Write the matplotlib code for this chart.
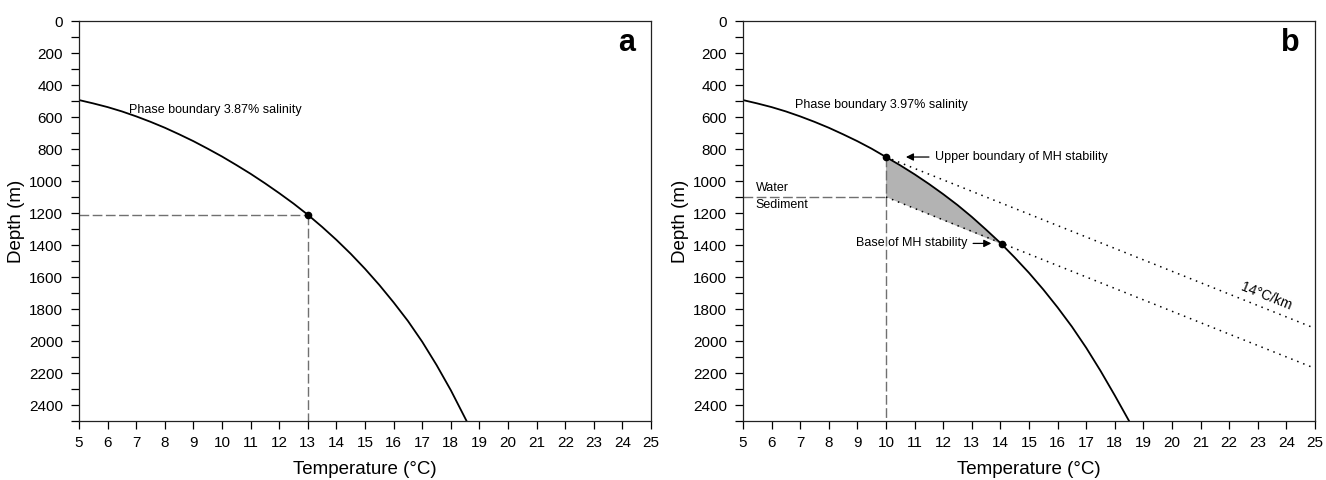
import numpy as np
import matplotlib
matplotlib.use('Agg')
import matplotlib.pyplot as plt
from matplotlib.ticker import MultipleLocator

plt.rcParams['font.family'] = ['Liberation Sans', 'DejaVu Sans']

#%% data

# phase boundary, 3.87% salinity (panel a)
temp_a = [5.0, 5.5, 6.0, 6.5, 7.0, 7.5, 8.0, 8.5, 9.0, 9.5, 10.0, 10.5, 11.0, 11.5,
          12.0, 12.5, 13.0, 13.5, 14.0, 14.5, 15.0, 15.5, 16.0, 16.5, 17.0, 17.5, 18.0, 18.55]
depth_a = [494, 515, 538, 565, 596, 630, 667, 708, 751, 798, 847, 900, 955, 1014,
           1076, 1141, 1211, 1287, 1368, 1455, 1549, 1650, 1759, 1875, 2005, 2150, 2308, 2500]
point_a = (13.0, 1212)

# phase boundary, 3.97% salinity (panel b)
temp_b = [5.0, 5.5, 6.0, 6.5, 7.0, 7.5, 8.0, 8.5, 9.0, 9.5, 10.0, 10.5, 11.0, 11.5,
          12.0, 12.5, 13.0, 13.5, 14.0, 14.5, 15.0, 15.5, 16.0, 16.5, 17.0, 17.5, 18.0, 18.5]
depth_b = [494, 515, 538, 565, 596, 630, 667, 708, 751, 798, 850, 902, 958, 1018,
           1082, 1150, 1224, 1304, 1387, 1478, 1574, 1678, 1790, 1910, 2042, 2186, 2340, 2500]

# geotherms 14 C/km (panel b)
geo_temp = [10.0, 25.0]
geo_upper = [850, 1921]
geo_lower = [1100, 2171]

water_depth = 1100
seafloor_temp = 10.0
upper_point = (10.0, 850)
base_point = (14.05, 1396)

xticks = np.arange(5, 26, 1)
yticks = np.arange(0, 2500, 200)

#%% figure
fig = plt.figure(figsize=(13.26, 4.8), dpi=100)
ax1 = fig.add_axes([0.0596, 0.1229, 0.4314, 0.8333])
ax2 = fig.add_axes([0.5603, 0.1229, 0.4314, 0.8333])

dash_kw = dict(color='#707070', lw=1.0, dashes=(7, 2.5))
dot_kw = dict(color='k', lw=1.1, linestyle=(0, (1, 3.2)))

for ax in (ax1, ax2):
    ax.set_xlim(5, 25)
    ax.set_ylim(2500, 0)
    ax.set_xticks(xticks)
    ax.set_yticks(yticks)
    ax.yaxis.set_minor_locator(MultipleLocator(100))
    ax.tick_params(axis='both', which='both', direction='out', length=5.5, width=0.9,
                   labelsize=11, top=False, right=False)
    ax.tick_params(axis='y', pad=6)
    ax.tick_params(axis='x', pad=5)
    for s in ax.spines.values():
        s.set_linewidth(0.9)
        s.set_color('#222222')
    ax.set_xlabel('Temperature (°C)', fontsize=13.5, labelpad=8)
    ax.set_ylabel('Depth (m)', fontsize=13.5, labelpad=3)

# panel a
ax1.plot([5, point_a[0]], [point_a[1], point_a[1]], **dash_kw)
ax1.plot([point_a[0], point_a[0]], [point_a[1], 2500], **dash_kw)
ax1.plot(temp_a, depth_a, color='k', lw=1.3)
ax1.plot(*point_a, 'o', color='k', ms=4.5)
ax1.text(6.75, 556, 'Phase boundary 3.87% salinity', fontsize=9, va='center')
ax1.text(24.45, 140, 'a', fontsize=22, fontweight='bold', ha='right', va='center')

# panel b
tb = np.array(temp_b)
db = np.array(depth_b)
m = (tb > upper_point[0]) & (tb < base_point[0])
poly_t = np.concatenate([[upper_point[0]], tb[m], [base_point[0], seafloor_temp]])
poly_d = np.concatenate([[upper_point[1]], db[m], [base_point[1], water_depth]])
ax2.fill(poly_t, poly_d, color='#b3b3b3', lw=0)

ax2.plot([5, seafloor_temp], [water_depth, water_depth], **dash_kw)
ax2.plot([upper_point[0], upper_point[0]], [upper_point[1], 2500], **dash_kw)
ax2.plot(geo_temp, geo_upper, **dot_kw)
ax2.plot(geo_temp, geo_lower, **dot_kw)
ax2.plot(temp_b, depth_b, color='k', lw=1.3)
ax2.plot(*upper_point, 'o', color='k', ms=4.5)
ax2.plot(*base_point, 'o', color='k', ms=4.5)

ax2.text(6.81, 525, 'Phase boundary 3.97% salinity', fontsize=9, va='center')
ax2.text(5.44, 1042, 'Water', fontsize=9, va='center')
ax2.text(5.44, 1150, 'Sediment', fontsize=9, va='center')
ax2.text(11.72, 850, 'Upper boundary of MH stability', fontsize=9, va='center')
ax2.annotate('', xy=(10.6, 850), xytext=(11.6, 850),
             arrowprops=dict(arrowstyle='-|>', color='k', lw=0.9, mutation_scale=11))
ax2.text(12.85, 1390, 'Base of MH stability', fontsize=9, va='center', ha='right')
ax2.annotate('', xy=(13.78, 1390), xytext=(12.95, 1390),
             arrowprops=dict(arrowstyle='-|>', color='k', lw=0.9, mutation_scale=11))
ax2.text(23.3, 1722, '14°C/km', fontsize=10, rotation=-22, ha='center', va='center')
ax2.text(24.45, 140, 'b', fontsize=22, fontweight='bold', ha='right', va='center')

fig.savefig('out.png', dpi=100)
